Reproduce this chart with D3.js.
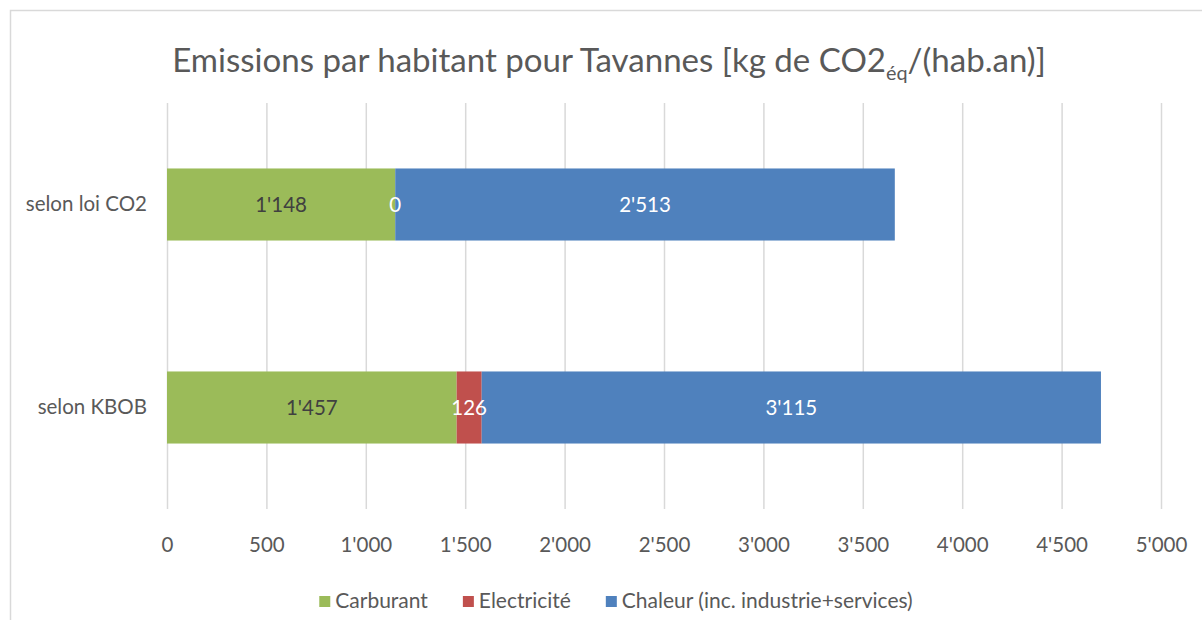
<!DOCTYPE html>
<html>
<head>
<meta charset="utf-8">
<script src="https://cdn.jsdelivr.net/npm/d3@7"></script>
<style>
  body { margin: 0; background: #fff; }
  svg { font-family: Lato, "Open Sans", sans-serif; }
  .axis { font-family: Lato, "Open Sans", sans-serif; }
  .axis text { fill: #595959; font-size: 20.5px; }
  .x-axis .tick line { stroke: #d9d9d9; stroke-width: 1.5; }
</style>
</head>
<body>
<svg id="chart"></svg>
<script>
// chart data (kg CO2eq per inhabitant and year)
const categories = ["selon loi CO2", "selon KBOB"];
const seriesNames = ["Carburant", "Electricité", "Chaleur (inc. industrie+services)"];
const carburant = [1148, 1457];
const electricite = [0, 126];
const chaleur = [2513, 3115];
const xTicks = [0, 500, 1000, 1500, 2000, 2500, 3000, 3500, 4000, 4500, 5000];
const seriesColors = ["#9bbb59", "#c0504d", "#4f81bd"];
const labelColors = ["#404040", "#ffffff", "#ffffff"];

const width = 1202, height = 620;
const margin = { top: 103, right: 41, bottom: 111, left: 167 };

// apostrophe as thousands separator (Swiss style)
const fmt = d => d3.format(",")(d).replace(/,/g, "'");

const table = categories.map((c, i) => ({
  category: c,
  "Carburant": carburant[i],
  "Electricité": electricite[i],
  "Chaleur (inc. industrie+services)": chaleur[i]
}));
const stacked = d3.stack().keys(seriesNames)(table);

const svg = d3.select("#chart").attr("width", width).attr("height", height);

// outer chart frame (right and bottom edges fall outside the picture)
svg.append("rect")
  .attr("x", 10.5).attr("y", 10.5)
  .attr("width", width + 20).attr("height", height)
  .attr("fill", "#fff")
  .attr("stroke", "#d9d9d9")
  .attr("stroke-width", 1.5);

const xScale = d3.scaleLinear()
  .domain([0, 5000])
  .range([margin.left, width - margin.right]);

const yScale = d3.scaleBand()
  .domain(categories)
  .range([margin.top, height - margin.bottom])
  .paddingInner(0.645)
  .paddingOuter(0.3225);

// x axis with gridlines
const xAxis = d3.axisBottom(xScale)
  .tickValues(xTicks)
  .tickSize(-(height - margin.bottom - margin.top))
  .tickPadding(28)
  .tickFormat(fmt);

svg.append("g")
  .attr("class", "axis x-axis")
  .attr("transform", `translate(0,${height - margin.bottom})`)
  .call(xAxis)
  .call(g => g.select(".domain").remove());

// category axis
svg.append("g")
  .attr("class", "axis y-axis")
  .attr("transform", `translate(${margin.left},0)`)
  .call(d3.axisLeft(yScale).tickSize(0).tickPadding(20))
  .call(g => g.select(".domain").remove());

// stacked bars
const layers = svg.append("g").selectAll("g")
  .data(stacked)
  .join("g")
  .attr("fill", (d, i) => seriesColors[i]);

layers.selectAll("rect")
  .data(d => d)
  .join("rect")
  .attr("x", d => xScale(d[0]))
  .attr("y", d => yScale(d.data.category))
  .attr("width", d => xScale(d[1]) - xScale(d[0]))
  .attr("height", yScale.bandwidth());

// data labels
svg.append("g").selectAll("g")
  .data(stacked)
  .join("g")
  .attr("fill", (d, i) => labelColors[i])
  .selectAll("text")
  .data(d => d)
  .join("text")
  .attr("x", d => (xScale(d[0]) + xScale(d[1])) / 2)
  .attr("y", d => yScale(d.data.category) + yScale.bandwidth() / 2)
  .attr("dy", "0.35em")
  .attr("text-anchor", "middle")
  .style("font-size", "20.5px")
  .text(d => fmt(d[1] - d[0]));

// title with subscript, scaled to the reference width
const title = svg.append("text")
  .attr("x", 609)
  .attr("y", 72)
  .attr("text-anchor", "middle")
  .attr("fill", "#595959")
  .style("font-size", "30px");
title.append("tspan").text("Emissions par habitant pour Tavannes [kg de CO2");
title.append("tspan").attr("class", "sub").attr("dy", 7).style("font-size", "0.6em").text("éq");
title.append("tspan").attr("class", "after").attr("dy", -7).text("/(hab.an)]");
const tw = title.node().getComputedTextLength();
const titleSize = 30 * 874 / tw;
title.style("font-size", titleSize + "px");
title.select(".sub").attr("dy", titleSize * 0.23);
title.select(".after").attr("dy", -titleSize * 0.23);

// legend
const legend = svg.append("g").style("font-size", "21px");
const items = legend.selectAll("g")
  .data(seriesNames)
  .join("g");
items.append("rect")
  .attr("width", 11).attr("height", 11)
  .attr("y", -12)
  .attr("fill", (d, i) => seriesColors[i]);
items.append("text")
  .attr("x", 16)
  .attr("y", 0)
  .attr("fill", "#595959")
  .text(d => d);
let lx = 0;
items.each(function () {
  const w = 16 + this.querySelector("text").getComputedTextLength();
  d3.select(this).attr("transform", `translate(${lx},0)`);
  lx += w + 35;
});
const legendWidth = lx - 35;
legend.attr("transform", `translate(${616 - legendWidth / 2},608)`);
</script>
</body>
</html>
